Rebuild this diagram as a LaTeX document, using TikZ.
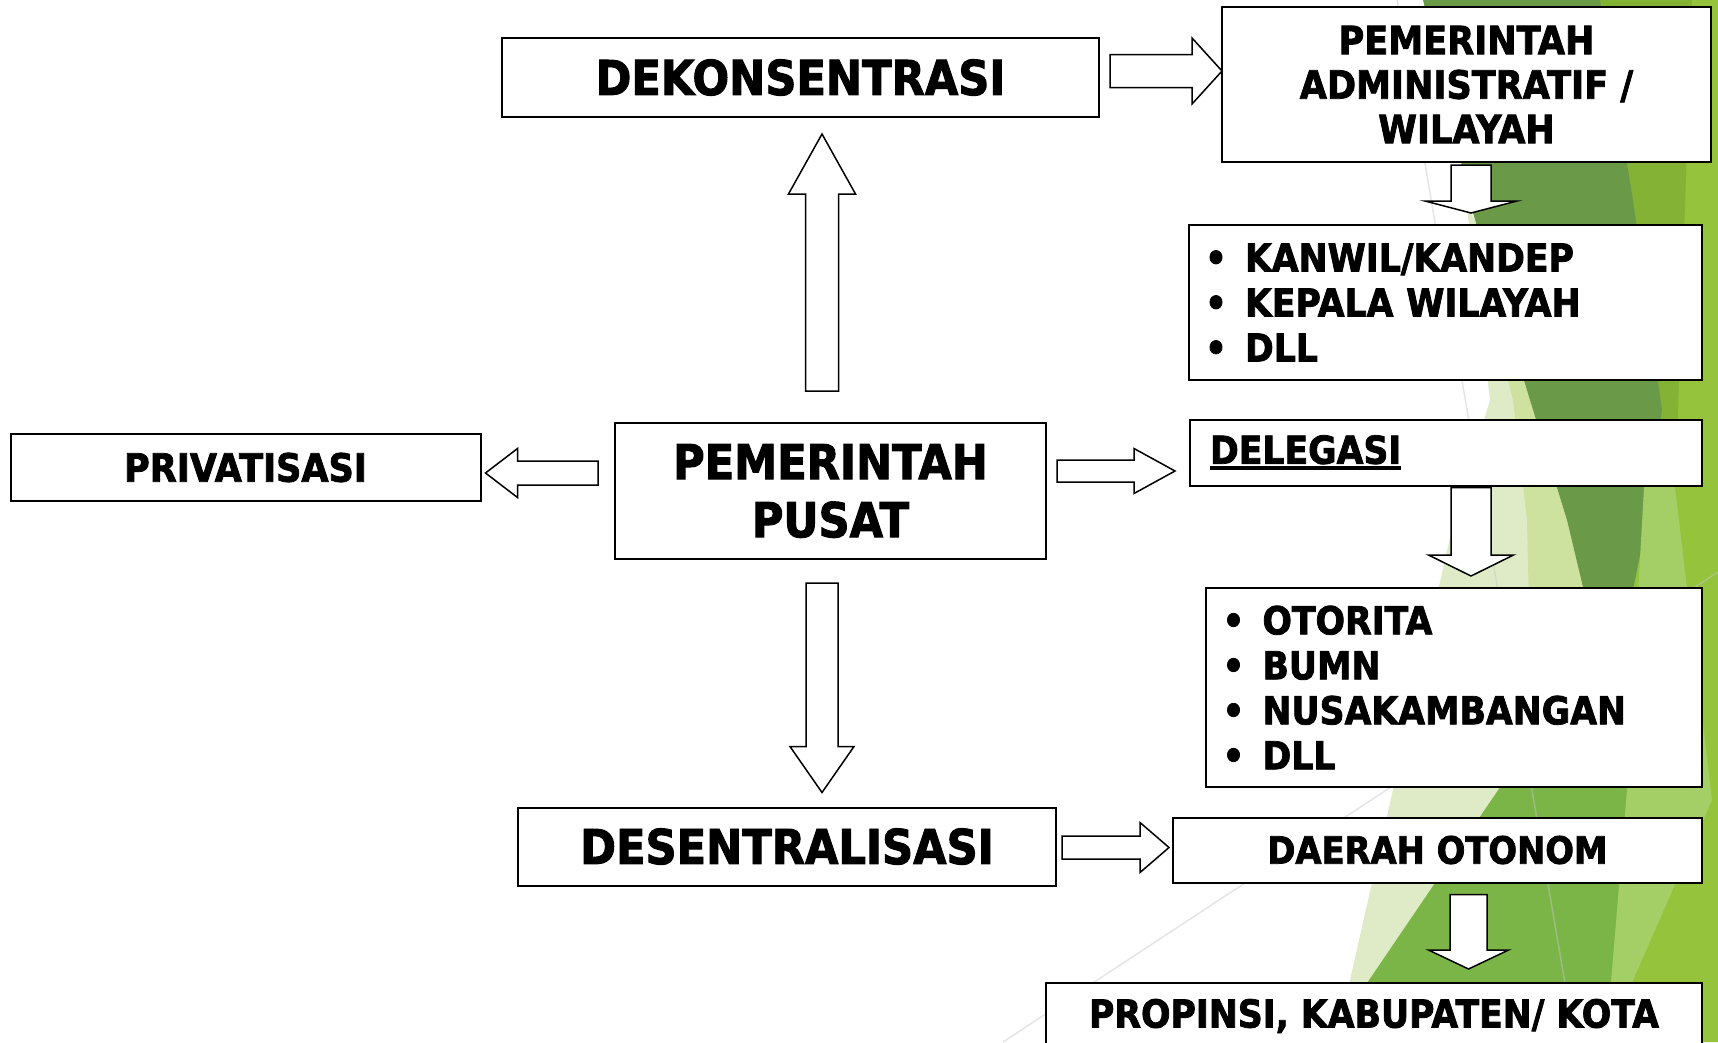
\documentclass[tikz,border=0pt]{standalone}
\usepackage{fontspec}
\setmainfont{DejaVu Sans}[FakeStretch=0.9, BoldFeatures={FakeBold=2}]
\usetikzlibrary{calc}

\definecolor{facetpale}{HTML}{DEEBC6}
\definecolor{facetlight}{HTML}{CDE29F}
\definecolor{facetdark}{HTML}{6A9A48}
\definecolor{facetmid}{HTML}{84B234}
\definecolor{facetbright}{HTML}{95C33B}
\definecolor{facetgrass}{HTML}{7BB547}
\definecolor{facetlime}{HTML}{A4CE66}

\newcommand\bigtxt{\fontsize{48}{58}\selectfont\bfseries}
\newcommand\midtxt{\fontsize{38.5}{45}\selectfont\bfseries}
\newcommand\itm{\makebox[26pt][c]{\textbullet}\hspace{16pt}}
\newcommand\ultext[1]{\setbox0\hbox{#1}\rlap{\rule[-6pt]{\wd0}{3.5pt}}\box0}

% block arrow from #1 to #2: shaft half width #3, head half width #4, head length #5
\newcommand\blockarrow[5]{%
	\path #1 coordinate (ba-s) #2 coordinate (ba-e);
	\pgfpointdiff{\pgfpointanchor{ba-s}{center}}{\pgfpointanchor{ba-e}{center}}%
	\pgfgetlastxy{\badx}{\bady}%
	\pgfmathsetmacro\balen{veclen(\badx,\bady)}%
	\pgfmathsetmacro\baang{atan2(\bady,\badx)}%
	\pgfmathsetmacro\babase{\balen-#5}%
	\draw [blockline, shift={(ba-s)}, rotate=\baang]
		(0pt,-#3pt) -- (\babase pt,-#3pt) -- (\babase pt,-#4pt) -- (\balen pt,0pt)
		-- (\babase pt,#4pt) -- (\babase pt,#3pt) -- (0pt,#3pt) -- cycle;}

\begin{document}
\begin{tikzpicture}[%
	x=1pt, y=-1pt,%
	textbox/.style ={draw=black, line width=2pt, fill=white, inner sep=0pt, outer sep=0pt, align=center},%
	listbox/.style ={textbox, align=left, inner xsep=14pt, font=\midtxt},%
	blockline/.style ={draw=black, line width=1.5pt, fill=white, line join=miter},%
	]
\useasboundingbox (0,0) rectangle (1718,1042);
\clip (0,0) rectangle (1718,1042);
%%% background
	\fill [white] (0,0) rectangle (1718,1042);
	\fill [facetbright] (1590,0) -- (1718,0) -- (1718,1042) -- (1540,1042) -- cycle;
	\fill [facetmid] (1590,0) -- (1692,0) -- (1676,470) -- (1645,470) -- cycle;
	\fill [facetpale] (1466,200) -- (1560,420) -- (1600,640) -- (1420,1042) -- (1336,1042) -- (1454,520) -- (1490,400) -- cycle;
	\fill [facetlight] (1495,330) -- (1540,380) -- (1600,640) -- (1530,650) -- (1527,520) -- (1513,400) -- cycle;
	\fill [facetdark] (1423,0) -- (1600,0) -- (1633,200) -- (1662,410) -- (1647,520) -- (1633,590) -- (1605,700)
		-- (1583,587) -- (1567,520) -- (1530,400) -- (1473,213) -- cycle;
	\fill [facetgrass] (1327,1042) -- (1600,640) -- (1630,790) -- (1606,1042) -- cycle;
	\fill [facetlime] (1645,470) -- (1673,470) -- (1712,800) -- (1606,1042) -- (1627,790) -- cycle;
	\draw [gray!45, line width=1.5pt, opacity=.45] (1397,0) -- (1575,1042);
	\draw [gray!45, line width=1.5pt, opacity=.45] (1003,1042) -- (1718,572);
%%% background
%%% boxes
	\node [textbox, font=\bigtxt, minimum width=597pt, minimum height=79pt] (dek) at (800.5,77.5) {DEKONSENTRASI};
	\node [textbox, font=\fontsize{39}{44.5}\selectfont\bfseries, minimum width=489pt, minimum height=155pt] (admin) at (1466.5,84.5)
		{PEMERINTAH\\ADMINISTRATIF /\\WILAYAH};
	\node [listbox, text width=485pt, minimum height=155pt] (kanwil) at (1445.5,302.5)
		{\itm KANWIL/KANDEP\\\itm KEPALA WILAYAH\\\itm DLL};
	\node [textbox, font=\bigtxt, minimum width=431pt, minimum height=136pt] (pusat) at (830.5,491) {PEMERINTAH\\PUSAT};
	\node [textbox, font=\fontsize{39}{45}\selectfont\bfseries, minimum width=470pt, minimum height=67pt] (priv) at (245.5,467.5) {PRIVATISASI};
	\node [textbox, font=\midtxt, align=left, inner xsep=20pt, text width=472pt, minimum height=66pt] (deleg) at (1446,452.5)
		{\ultext{DELEGASI}};
	\node [listbox, inner xsep=14.5pt, text width=467pt, minimum height=199pt] (otor) at (1454,687.5)
		{\itm OTORITA\\\itm BUMN\\\itm NUSAKAMBANGAN\\\itm DLL};
	\node [textbox, font=\bigtxt, minimum width=538pt, minimum height=78pt] (desen) at (787,846.5) {DESENTRALISASI};
	\node [textbox, font=\fontsize{37.5}{45}\selectfont\bfseries, minimum width=529pt, minimum height=65pt] (daerah) at (1437.5,850) {DAERAH OTONOM};
	\node [textbox, font=\midtxt, minimum width=656pt, minimum height=66pt] (prop) at (1374,1016) {PROPINSI, KABUPATEN/ KOTA};
%%% boxes
%%% arrows
	\coordinate (dekA) at ($(dek.east)+(11,-6.5)$);
	\coordinate (dekB) at (dekA -| admin.west);
	\blockarrow{(dekA)}{(dekB)}{16.5}{33}{30}
	%
	\coordinate (adminA) at ($(admin.south)+(4.5,3)$);
	\coordinate (adminB) at ($(adminA |- kanwil.north)+(0,-12)$);
	\blockarrow{(adminA)}{(adminB)}{20}{46}{12}
	%
	\coordinate (pusatU) at ($(pusat.north)+(-8.5,-32)$);
	\coordinate (dekC) at ($(pusatU |- dek.south)+(0,17)$);
	\blockarrow{(pusatU)}{(dekC)}{16.5}{33.5}{60}
	%
	\coordinate (pusatD) at ($(pusat.south)+(-8.5,24)$);
	\coordinate (desenC) at ($(pusatD |- desen.north)+(0,-15)$);
	\blockarrow{(pusatD)}{(desenC)}{16}{32}{46}
	%
	\coordinate (pusatL) at ($(pusat.west)+(-17,-18)$);
	\coordinate (privC) at ($(pusatL -| priv.east)+(5,0)$);
	\blockarrow{(pusatL)}{(privC)}{12}{24.5}{32}
	%
	\coordinate (pusatR) at ($(pusat.east)+(11,-20)$);
	\coordinate (delegC) at ($(pusatR -| deleg.west)+(-15,0)$);
	\blockarrow{(pusatR)}{(delegC)}{11}{22.5}{41}
	%
	\coordinate (delegA) at ($(deleg.south)+(25,2)$);
	\coordinate (otorC) at ($(delegA |- otor.north)+(0,-12)$);
	\blockarrow{(delegA)}{(otorC)}{20}{42.5}{21}
	%
	\coordinate (desenA) at ($(desen.east)+(6,1)$);
	\coordinate (daerahC) at ($(desenA -| daerah.west)+(-4,0)$);
	\blockarrow{(desenA)}{(daerahC)}{11.5}{25}{29}
	%
	\coordinate (daerahA) at ($(daerah.south)+(31,12)$);
	\coordinate (propC) at ($(daerahA |- prop.north)+(0,-14)$);
	\blockarrow{(daerahA)}{(propC)}{18.5}{40}{19}
%%% arrows
\end{tikzpicture}
\end{document}
